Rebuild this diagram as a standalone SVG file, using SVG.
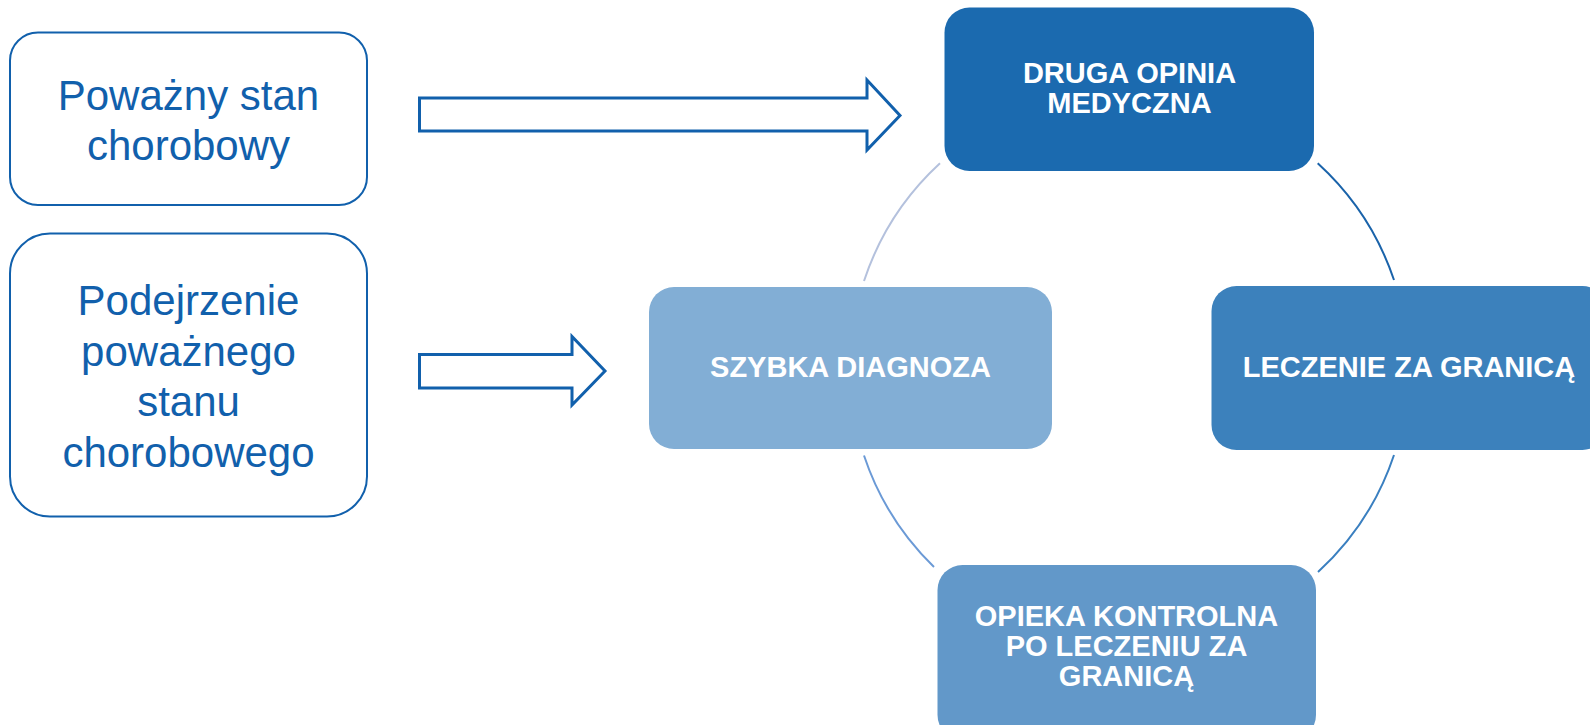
<svg xmlns="http://www.w3.org/2000/svg" width="1590" height="725" viewBox="0 0 1590 725">
<style>
.src rect{fill:#FFFFFF;stroke:#1160AC;stroke-width:2}
.src text{font-family:"Liberation Sans",Arial,sans-serif;font-size:42px;fill:#1160AC;text-anchor:middle}
.node text{font-family:"Liberation Sans",Arial,sans-serif;font-size:29px;font-weight:bold;fill:#FFFFFF;text-anchor:middle}
.arrow{fill:#FFFFFF;stroke:#1160AC;stroke-width:3;stroke-linejoin:miter}
.arc{fill:none;stroke-width:2}
</style>
<rect width="1590" height="725" fill="#FFFFFF"/>
<g id="box-powazny" class="src">
<rect x="10" y="32.5" width="357" height="172.5" rx="28"/>
<text x="188.5" y="110">Poważny stan</text>
<text x="188.5" y="160">chorobowy</text>
</g>
<g id="box-podejrzenie" class="src">
<rect x="10" y="233.5" width="357" height="283" rx="40"/>
<text x="188.5" y="315">Podejrzenie</text>
<text x="188.5" y="365.5">poważnego</text>
<text x="188.5" y="416">stanu</text>
<text x="188.5" y="466.5">chorobowego</text>
</g>
<g id="connectors">
<path class="arrow" d="M419.5,98 L867,98 L867,80 L900,115.5 L867,150 L867,131 L419.5,131 Z"/>
<path class="arrow" d="M419.5,354.5 L572,354.5 L572,336.5 L605,371 L572,405 L572,388 L419.5,388 Z"/>
<path class="arc" stroke="#B4C1DD" d="M864,281 A278.5,278.5 0 0 1 940,163.3"/>
<path class="arc" stroke="#1A63AA" d="M1317.7,163.3 A278.5,278.5 0 0 1 1394,280"/>
<path class="arc" stroke="#3A7FC0" d="M1394,455 A278.5,278.5 0 0 1 1318,572"/>
<path class="arc" stroke="#6B9AD6" d="M934,567 A278.5,278.5 0 0 1 864,455.5"/>
</g>
<g id="node-druga" class="node">
<rect x="944.5" y="7.5" width="369.5" height="163.5" rx="25" fill="#1B6AAF"/>
<text x="1129.5" y="82.7">DRUGA OPINIA</text>
<text x="1129.5" y="113.3">MEDYCZNA</text>
</g>
<g id="node-leczenie" class="node">
<rect x="1211.5" y="286" width="396" height="164" rx="25" fill="#3C81BC"/>
<text x="1409" y="376.7">LECZENIE ZA GRANICĄ</text>
</g>
<g id="node-opieka" class="node">
<rect x="937.5" y="565" width="378.5" height="175" rx="25" fill="#6298C9"/>
<text x="1126.5" y="626">OPIEKA KONTROLNA</text>
<text x="1126.5" y="656">PO LECZENIU ZA</text>
<text x="1126.5" y="685.5">GRANICĄ</text>
</g>
<g id="node-szybka" class="node">
<rect x="649" y="287" width="403" height="162" rx="25" fill="#82AED5"/>
<text x="850.5" y="377">SZYBKA DIAGNOZA</text>
</g>
</svg>
